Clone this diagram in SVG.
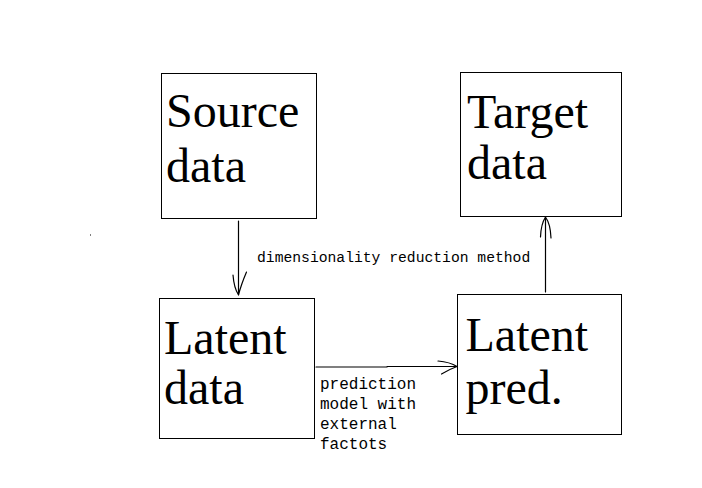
<svg xmlns="http://www.w3.org/2000/svg" width="702" height="488" viewBox="0 0 702 488">
<style>
.box{fill:#fff;stroke:#000;stroke-width:1}
.big{font-family:"Liberation Serif",serif;font-size:48px;fill:#000}
.lbl{font-family:"Liberation Mono",monospace;fill:#000}
.ln{fill:none;stroke:#000;stroke-width:1.2;stroke-linecap:round;stroke-linejoin:round}
</style>
<rect width="702" height="488" fill="#fff"/>
<rect x="90" y="234.5" width="1" height="1" fill="#000"/>
<g id="connectors">
<path class="ln" d="M238.5 221 L238.5 295 M233 275 Q234 288 238.5 295 M246.5 272 Q241 285 238.5 295"/>
<path class="ln" d="M545.5 292 L545.5 217 M540.5 237 Q541 224 545.5 217 M551 238 Q550.5 224 545.5 217"/>
<path class="ln" d="M316 367 L387 367 L387 366.5 L457 366.5 M438 361 Q450 362 457 366.5 M441.5 374 Q450 369 457 366.5"/>
<text class="lbl" x="257" y="262" font-size="14.7">dimensionality reduction method</text>
<text class="lbl" font-size="16"><tspan x="320" y="389">prediction</tspan><tspan x="320" y="409">model with</tspan><tspan x="320" y="429">external</tspan><tspan x="320" y="449">factots</tspan></text>
</g>
<g id="source">
<rect class="box" x="161.5" y="73.5" width="155" height="145"/>
<text class="big"><tspan x="166" y="127">Source</tspan><tspan x="166" y="182">data</tspan></text>
</g>
<g id="target">
<rect class="box" x="460.5" y="72.5" width="161" height="144"/>
<text class="big"><tspan x="467" y="128">Target</tspan><tspan x="467" y="178.5">data</tspan></text>
</g>
<g id="latent-data">
<rect class="box" x="159.5" y="298.5" width="155" height="140"/>
<text class="big"><tspan x="164" y="354">Latent</tspan><tspan x="164" y="403.5">data</tspan></text>
</g>
<g id="latent-pred">
<rect class="box" x="457.5" y="294.5" width="164" height="140"/>
<text class="big"><tspan x="465.5" y="351">Latent</tspan><tspan x="465.5" y="403.5">pred.</tspan></text>
</g>
</svg>
